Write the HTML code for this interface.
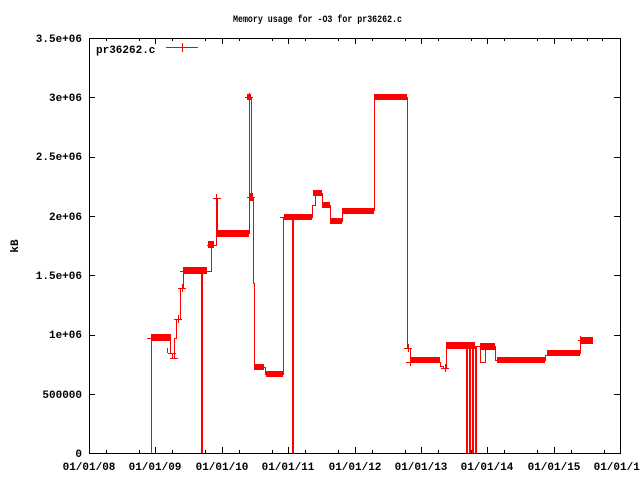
<!DOCTYPE html>
<html><head><meta charset="utf-8"><style>
body{margin:0;background:#fff}
svg{display:block}
text{font-family:"Liberation Mono","DejaVu Sans Mono",monospace;font-size:11px;font-weight:bold;fill:#000}
</style></head><body>
<svg width="640" height="480" xmlns="http://www.w3.org/2000/svg" shape-rendering="crispEdges">
<rect width="640" height="480" fill="#fff"/>
<text x="233" y="22" style="font-size:10px" textLength="169" lengthAdjust="spacingAndGlyphs">Memory usage for -O3 for pr36262.c</text>
<text transform="translate(18,246) rotate(-90)" text-anchor="middle">kB</text>
<g text-anchor="end">
<text x="82" y="457">0</text>
<text x="82" y="398">500000</text>
<text x="82" y="338">1e+06</text>
<text x="82" y="279">1.5e+06</text>
<text x="82" y="220">2e+06</text>
<text x="82" y="160">2.5e+06</text>
<text x="82" y="101">3e+06</text>
<text x="82" y="42">3.5e+06</text>
</g>
<g text-anchor="middle">
<text x="89" y="470">01/01/08</text>
<text x="155" y="470">01/01/09</text>
<text x="222" y="470">01/01/10</text>
<text x="288" y="470">01/01/11</text>
<text x="355" y="470">01/01/12</text>
<text x="421" y="470">01/01/13</text>
<text x="487" y="470">01/01/14</text>
<text x="554" y="470">01/01/15</text>
<text x="620" y="470">01/01/16</text>
</g>
<g stroke="#000" stroke-width="1" fill="none">
<rect x="89.5" y="38.5" width="531" height="415"/>
<path d="M89 394.5h6M89 335.5h6M89 275.5h6M89 216.5h6M89 157.5h6M89 97.5h6M620 394.5h-6M620 335.5h-6M620 275.5h-6M620 216.5h-6M620 157.5h-6M620 97.5h-6"/>
<path d="M155.5 453v-6M222.5 453v-6M288.5 453v-6M355.5 453v-6M421.5 453v-6M487.5 453v-6M554.5 453v-6M155.5 38v6M222.5 38v6M288.5 38v6M355.5 38v6M421.5 38v6M487.5 38v6M554.5 38v6"/>
<path d="M106.5 453v-3M139.5 453v-3M172.5 453v-3M205.5 453v-3M239.5 453v-3M272.5 453v-3M305.5 453v-3M338.5 453v-3M372.5 453v-3M405.5 453v-3M438.5 453v-3M471.5 453v-3M504.5 453v-3M537.5 453v-3M571.5 453v-3M604.5 453v-3M106.5 38v3M139.5 38v3M172.5 38v3M205.5 38v3M239.5 38v3M272.5 38v3M305.5 38v3M338.5 38v3M372.5 38v3M405.5 38v3M438.5 38v3M471.5 38v3M504.5 38v3M537.5 38v3M571.5 38v3M587.5 38v3M602.5 38v3"/>
</g>
<text x="96" y="53">pr36262.c</text>
<g stroke="#f00" stroke-width="1" fill="none">
<path d="M166 47.5h32M182.5 43v9"/>
<path d="M151.5 453V338.5H170.5V353.5H172.5V358.5H174.5V338.5H176.5V319.5H180.5V288.5H183.5V271.5H201.5V453H202.5V271.5H211.5V245.5H216.5V198.5H217.5V233.5H249.5V97.5H251.5V197.5H253.5V283.5H254.5V367.5H265.5V374.5H283.5V217.5H292.5V453H293.5V217.5H312.5V205.5H315.5V193.5H322.5V205.5H330.5V221.5H342.5V212.5H350.5V210.5H374.5V97.5H407.5V348.5H410.5V362.5H440.5V366.5H443.5V368.5H446.5V346.5H466.5V453H467.5V346.5H469.5V453H470.5V346.5H472.5V453H473.5V346.5H475.5V453H476.5V346.5H480.5V362.5H485.5V346.5H495.5V360.5H545.5V355.5H547.5V353.5H580.5V340.5H593"/>
<path d="M147 338.5h8M168 353.5h8M170 358.5h8M174 319.5h8M178 288.5h8M180 271.5h8M207 245.5h8M213 198.5h8M245 97.5h8M247 197.5h8M280 217.5h8M404 348.5h8M406 362.5h8M441 368.5h8M498 360.5h8M578 340.5h8M167.5 353v-5M172.5 358v-5M178.5 323v-8M182.5 292v-8M216.5 202v-8M249.5 101v-8M251.5 201v-8M408.5 352v-8M410.5 366v-8M445.5 372v-8M580.5 344v-8"/>
</g>
<g fill="#f00">
<rect x="151" y="334" width="20" height="7"/>
<rect x="183" y="267" width="24" height="7"/>
<rect x="208" y="241" width="6" height="7"/>
<rect x="217" y="230" width="32" height="7"/>
<rect x="247" y="94" width="4" height="6"/>
<rect x="249" y="193" width="4" height="8"/>
<rect x="254" y="364" width="10" height="6"/>
<rect x="266" y="371" width="17" height="6"/>
<rect x="284" y="214" width="28" height="6"/>
<rect x="313" y="190" width="9" height="6"/>
<rect x="322" y="202" width="8" height="6"/>
<rect x="330" y="218" width="12" height="6"/>
<rect x="342" y="208" width="32" height="6"/>
<rect x="374" y="94" width="33" height="6"/>
<rect x="410" y="357" width="30" height="6"/>
<rect x="446" y="342" width="29" height="7"/>
<rect x="480" y="343" width="15" height="7"/>
<rect x="497" y="357" width="48" height="6"/>
<rect x="547" y="350" width="33" height="6"/>
<rect x="580" y="337" width="13" height="7"/>
</g>
</svg>
</body></html>
